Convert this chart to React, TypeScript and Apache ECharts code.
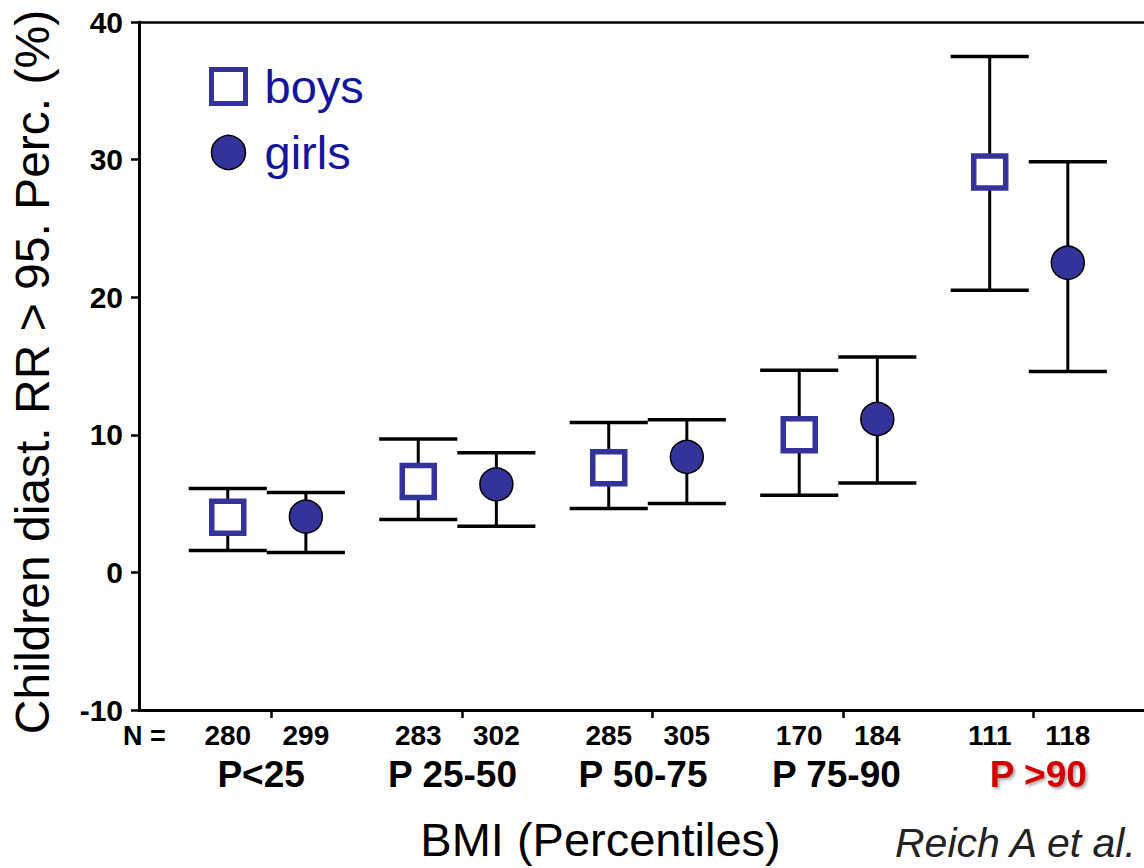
import React, { useEffect, useRef } from "react";
import * as echarts from "echarts";

const groups = ["P<25", "P 25-50", "P 50-75", "P 75-90", "P >90"];
const boysN = [280, 283, 285, 170, 111];
const girlsN = [299, 302, 305, 184, 118];
const boysMean = [4.0, 6.6, 7.6, 10.0, 29.1];
const boysLow = [1.6, 3.85, 4.65, 5.6, 20.5];
const boysHigh = [6.1, 9.7, 10.9, 14.7, 37.5];
const girlsMean = [4.05, 6.4, 8.4, 11.15, 22.5];
const girlsLow = [1.45, 3.35, 5.0, 6.5, 14.6];
const girlsHigh = [5.8, 8.7, 11.1, 15.65, 29.85];
const yMin = -10;
const yMax = 40;
const yInterval = 10;

const BOYS_OFFSET = -0.23;
const GIRLS_OFFSET = 0.18;
const CAP_WIDTH = 0.41;
const GROUP_LABEL_SHIFT = [-0.055, -0.05, -0.05, -0.035, 0.025];
const FONT = "'Liberation Sans', Arial, Helvetica, sans-serif";

export default function App() {
  const ref = useRef<HTMLDivElement>(null);
  useEffect(() => {
    if (!ref.current) return;
    const chart = echarts.init(ref.current, null, { renderer: "svg" });
    const groupPos = groups.map((_, i) => i);
    const boysX = groupPos.map((p) => p + BOYS_OFFSET);
    const girlsX = groupPos.map((p) => p + GIRLS_OFFSET);
    const nLabels: { x: number; n: number }[] = [];
    boysX.forEach((x, i) => {
      nLabels.push({ x, n: boysN[i] });
      nLabels.push({ x: girlsX[i], n: girlsN[i] });
    });
    const groupLabels = groupPos.map((p, i) => ({ x: p + GROUP_LABEL_SHIFT[i], i }));
    const xMin = -0.696;
    const xMax = 4.58;

    const errItem = (params: any, api: any) => {
      const x = api.value(0);
      const lo = api.coord([x, api.value(1)]);
      const hi = api.coord([x, api.value(2)]);
      const half = api.size([CAP_WIDTH, 0])[0] / 2;
      const stroke = { stroke: "#000", lineWidth: 3.5 };
      return {
        type: "group",
        children: [
          { type: "line", shape: { x1: lo[0], y1: lo[1], x2: hi[0], y2: hi[1] }, style: { ...stroke, lineWidth: 3 } },
          { type: "line", shape: { x1: lo[0] - half, y1: lo[1], x2: lo[0] + half, y2: lo[1] }, style: stroke },
          { type: "line", shape: { x1: hi[0] - half, y1: hi[1], x2: hi[0] + half, y2: hi[1] }, style: stroke },
        ],
      };
    };

    const option: any = {
      animation: false,
      backgroundColor: "#fff",
      textStyle: { fontFamily: FONT },
      grid: { left: 136, right: 0, top: 22, bottom: 156 },
      legend: {
        orient: "vertical",
        left: 204,
        top: 58,
        itemWidth: 34,
        itemHeight: 34,
        itemGap: 19,
        textStyle: { fontSize: 47, color: "#14149c", fontFamily: FONT, padding: [0, 0, 0, 14] },
        data: [
          { name: "boys", icon: "rect", itemStyle: { color: "#fff", borderColor: "#333399", borderWidth: 5 } },
          { name: "girls", icon: "circle", itemStyle: { color: "#333399", borderColor: "#000", borderWidth: 1.5 } },
        ],
      },
      xAxis: [
        {
          type: "value",
          position: "bottom",
          min: xMin,
          max: xMax,
          splitLine: { show: false },
          axisLine: { show: true, onZero: false, lineStyle: { color: "#000", width: 3 } },
          axisTick: { show: true, length: 8, lineStyle: { color: "#000", width: 2.5 }, customValues: groupPos },
          axisLabel: {
            show: true,
            customValues: nLabels.map((d) => d.x),
            formatter: (v: number) => {
              const f = nLabels.find((d) => Math.abs(d.x - v) < 1e-6);
              return f ? String(f.n) : "";
            },
            fontSize: 28,
            fontWeight: "bold",
            color: "#000",
            fontFamily: FONT,
            margin: 11,
          },
          name: "BMI (Percentiles)",
          nameLocation: "middle",
          nameGap: 106,
          nameTextStyle: { fontSize: 47, color: "#000", fontFamily: FONT, padding: [0, 82, 0, 0] },
        },
        {
          type: "value",
          position: "bottom",
          min: xMin,
          max: xMax,
          splitLine: { show: false },
          axisLine: { show: false, onZero: false },
          axisTick: { show: false },
          axisLabel: {
            show: true,
            customValues: groupLabels.map((g) => g.x),
            formatter: (v: number) => {
              const g = groupLabels.find((d) => Math.abs(d.x - v) < 1e-6);
              if (!g) return "";
              const t = groups[g.i];
              return g.i === groups.length - 1 ? "{r|" + t + "}" : "{b|" + t + "}";
            },
            margin: 46,
            rich: {
              b: { fontSize: 37, fontWeight: "bold", color: "#000", fontFamily: FONT },
              r: {
                fontSize: 37,
                fontWeight: "bold",
                color: "#d00000",
                fontFamily: FONT,
                textShadowColor: "rgba(0,0,0,0.35)",
                textShadowBlur: 3,
                textShadowOffsetX: 2,
                textShadowOffsetY: 2,
              },
            },
          },
        },
        {
          type: "value",
          position: "top",
          min: xMin,
          max: xMax,
          splitLine: { show: false },
          axisLine: { show: true, onZero: false, lineStyle: { color: "#000", width: 2.5 } },
          axisTick: { show: false },
          axisLabel: { show: false },
        },
      ],
      yAxis: {
        type: "value",
        min: yMin,
        max: yMax,
        interval: yInterval,
        splitLine: { show: false },
        axisLine: { show: true, onZero: false, lineStyle: { color: "#000", width: 3 } },
        axisTick: { show: true, length: 8, lineStyle: { color: "#000", width: 2.5 } },
        axisLabel: { fontSize: 30, fontWeight: "bold", color: "#000", fontFamily: FONT, margin: 16 },
        name: "Children diast. RR > 95. Perc. (%)",
        nameLocation: "middle",
        nameGap: 83,
        nameRotate: 90,
        nameTextStyle: { fontSize: 48, color: "#000", fontFamily: FONT, padding: [0, 12, 0, 0] },
      },
      graphic: [
        {
          type: "text",
          left: 123,
          top: 722,
          style: { text: "N =", fontSize: 27, fontWeight: "bold", fill: "#000", fontFamily: FONT },
        },
        {
          type: "text",
          left: 895,
          top: 822,
          style: { text: "Reich A et al.", fontSize: 41, fontStyle: "italic", fill: "#222", fontFamily: FONT },
        },
      ],
      series: [
        {
          type: "custom",
          name: "boysErr",
          renderItem: errItem,
          data: boysX.map((x, i) => [x, boysLow[i], boysHigh[i]]),
          encode: { x: 0, y: [1, 2] },
          z: 2,
          silent: true,
        },
        {
          type: "custom",
          name: "girlsErr",
          renderItem: errItem,
          data: girlsX.map((x, i) => [x, girlsLow[i], girlsHigh[i]]),
          encode: { x: 0, y: [1, 2] },
          z: 2,
          silent: true,
        },
        {
          type: "scatter",
          name: "boys",
          symbol: "rect",
          symbolSize: 32,
          itemStyle: { color: "#fff", borderColor: "#333399", borderWidth: 5.5, opacity: 1 },
          data: boysX.map((x, i) => [x, boysMean[i]]),
          z: 5,
        },
        {
          type: "scatter",
          name: "girls",
          symbol: "circle",
          symbolSize: 33,
          itemStyle: { color: "#333399", borderColor: "#000", borderWidth: 1.5, opacity: 1 },
          data: girlsX.map((x, i) => [x, girlsMean[i]]),
          z: 5,
        },
      ],
    };
    chart.setOption(option);
    return () => chart.dispose();
  }, []);
  return (
    <div
      ref={ref}
      style={{ position: "absolute", left: 0, top: 0, width: 1144, height: 868 }}
    />
  );
}
